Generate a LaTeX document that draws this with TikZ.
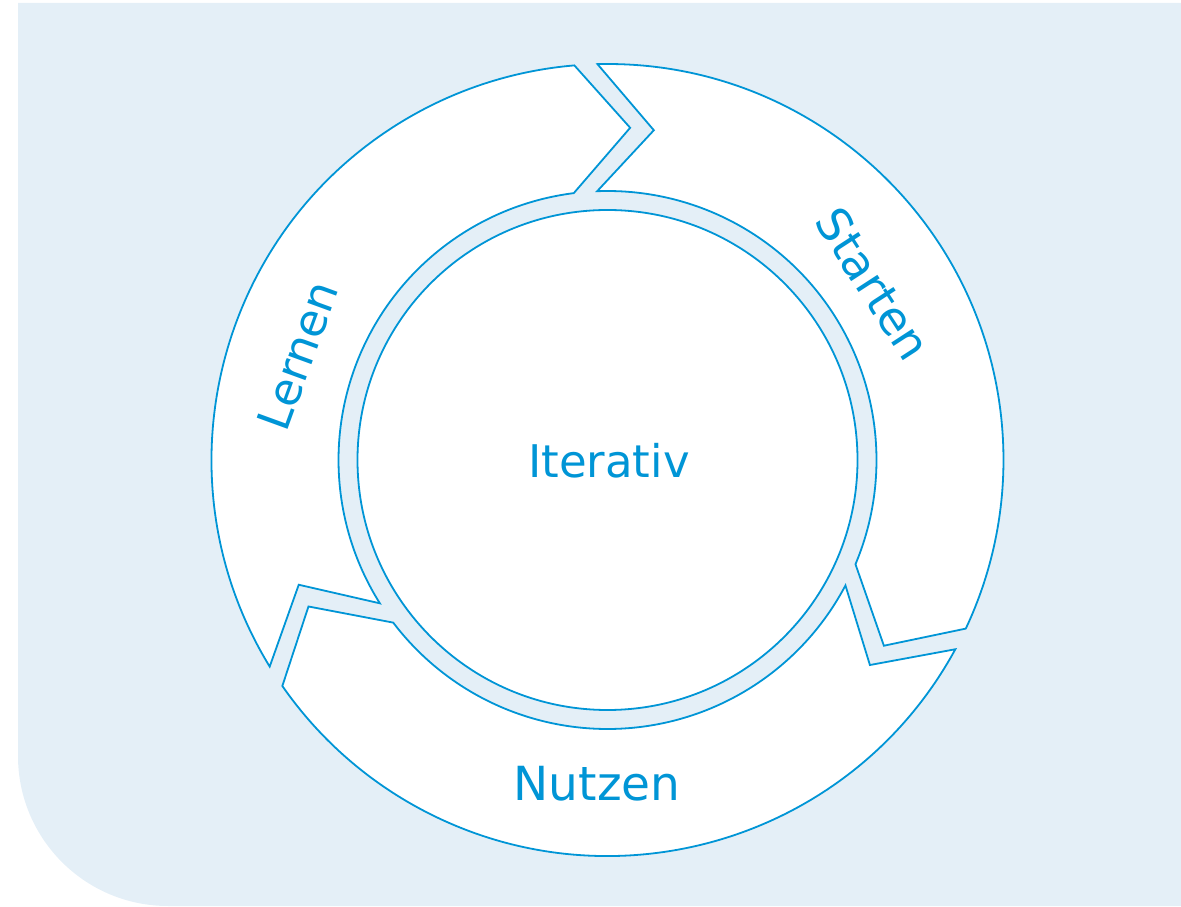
\documentclass[tikz,border=0pt]{standalone}
\usepackage{fontspec}
\setmainfont{DejaVu Sans}
\definecolor{lineblue}{RGB}{0,149,214}
\definecolor{bgblue}{RGB}{228,239,247}
\begin{document}
\begin{tikzpicture}[x=1pt,y=1pt,
  seg/.style={fill=white,draw=lineblue,line width=1.8pt,line join=miter},
  lbl/.style={text=lineblue,inner sep=0pt}]
\useasboundingbox (0,0) rectangle (1181,906);
% background
\fill[bgblue] (18,903) -- (18,150) arc[start angle=180,end angle=270,radius=150] -- (1181,0) -- (1181,903) -- cycle;
\coordinate (C) at (607.5,446);
% three arrow segments
\begin{scope}[shift={(C)}]
\foreach \r in {0,-120,120}{
  \draw[seg] (91.45+\r:396) arc[start angle=91.45+\r,end angle=-25.2+\r,radius=396]
    -- (-33.9+\r:333) -- (-22.8+\r:269)
    arc[start angle=-22.8+\r,end angle=92.2+\r,radius=269]
    -- (82.0+\r:333) -- cycle;
}
\end{scope}
% inner circle
\node[circle,minimum size=500pt,inner sep=0pt,fill=white,draw=lineblue,line width=1.8pt] (core) at (C) {};
% labels
\node[lbl,font=\fontsize{45}{50}\selectfont] (iter) at (609,445) {Iterativ};
\node[lbl,font=\fontsize{47}{52}\selectfont] (nutzen) at (597,122) {Nutzen};
\node[lbl,font=\fontsize{46}{52}\selectfont,rotate=-57] (starten) at (873.5,622) {Starten};
\node[lbl,font=\fontsize{45}{52}\selectfont,rotate=70] (lernen) at (298,550.5) {Lernen};
\end{tikzpicture}
\end{document}
